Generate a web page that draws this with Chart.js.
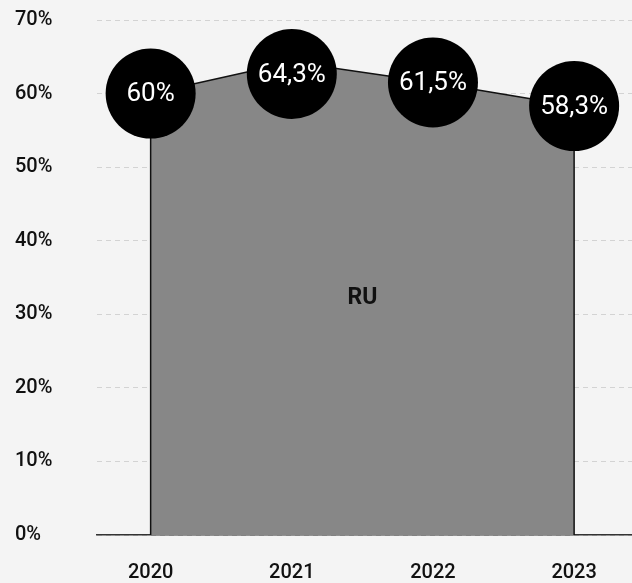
<!DOCTYPE html>
<html>
<head>
<meta charset="utf-8">
<script src="https://cdn.jsdelivr.net/npm/chart.js@4"></script>
<style>
	html, body { margin: 0; padding: 0; background: #f4f4f4; }
	#wrap { width: 632px; height: 583px; }
</style>
</head>
<body>
<div id="wrap"><canvas id="area-ru"></canvas></div>
<script>
// Chart data
const years = [2020, 2021, 2022, 2023];
const shareRu = [60, 64.3, 61.5, 58.3];
const yTicks = [0, 10, 20, 30, 40, 50, 60, 70];
const seriesName = "RU";

const fontFamily = "Roboto, 'Noto Sans', sans-serif";

function fmtPct(v) {
	return String(v).replace(".", ",") + "%";
}

/**
 * Draw the side edges of the area, the bubbles with values and the series name
 */
const bubbleLabels = {
	id: "bubbleLabels",
	afterDatasetsDraw(chart) {
		const ctx = chart.ctx;
		const meta = chart.getDatasetMeta(0);
		const yScale = chart.scales.y;
		const xScale = chart.scales.x;
		const base = yScale.getPixelForValue(0);
		const area = chart.chartArea;
		const r = 45;

		ctx.save();
		// vertical edges at first and last year
		ctx.strokeStyle = "#111";
		ctx.lineWidth = 1.5;
		[meta.data[0], meta.data[meta.data.length - 1]].forEach((pt) => {
			ctx.beginPath();
			ctx.moveTo(pt.x, pt.y);
			ctx.lineTo(pt.x, base);
			ctx.stroke();
		});

		// series name in the middle of the area
		const maxVal = Math.max(...shareRu);
		const midX = (xScale.getPixelForValue(years[0]) + xScale.getPixelForValue(years[years.length - 1])) / 2;
		ctx.fillStyle = "#111";
		ctx.font = "bold 23px " + fontFamily;
		ctx.textAlign = "center";
		ctx.textBaseline = "middle";
		ctx.fillText(seriesName, midX, yScale.getPixelForValue(maxVal / 2));

		// value bubbles, kept inside the chart area
		meta.data.forEach((pt, i) => {
			const cy = Math.max(pt.y, area.top + r + 9);
			ctx.beginPath();
			ctx.arc(pt.x, cy, r, 0, Math.PI * 2);
			ctx.fillStyle = "#000";
			ctx.fill();
			ctx.fillStyle = "#fff";
			ctx.font = "26px " + fontFamily;
			ctx.fillText(fmtPct(shareRu[i]), pt.x, cy + 1);
		});
		ctx.restore();
	},
};

const ctxEl = document.getElementById("area-ru");

new Chart(ctxEl, {
	type: "line",
	data: {
		datasets: [
			{
				label: seriesName,
				data: years.map((y, i) => ({ x: y, y: shareRu[i] })),
				borderColor: "#111",
				borderWidth: 1.5,
				backgroundColor: "#878787",
				fill: "origin",
				pointRadius: 0,
				tension: 0,
			},
		],
	},
	options: {
		responsive: true,
		maintainAspectRatio: false,
		animation: false,
		layout: {
			padding: { left: 15, top: 20, right: 0, bottom: 0 },
		},
		plugins: {
			legend: { display: false },
			tooltip: { enabled: false },
		},
		scales: {
			x: {
				type: "linear",
				min: 2019.62,
				max: 2023.41,
				afterBuildTicks: (scale) => {
					scale.ticks = years.map((v) => ({ value: v }));
				},
				afterFit: (scale) => {
					scale.height = 48;
				},
				grid: { display: false, drawTicks: false },
				border: { display: true, color: "#333", width: 1.5 },
				ticks: {
					padding: 26,
					color: "#111",
					font: { family: fontFamily, size: 20, weight: "500" },
					callback: (v) => String(v),
				},
			},
			y: {
				min: 0,
				max: 70,
				afterBuildTicks: (scale) => {
					scale.ticks = yTicks.map((v) => ({ value: v }));
				},
				afterFit: (scale) => {
					scale.width = 82;
				},
				grid: { color: "#d3d3d3", lineWidth: 1, drawTicks: false },
				border: { display: false, dash: [5, 4] },
				ticks: {
					crossAlign: "far",
					padding: 0,
					color: "#111",
					font: { family: fontFamily, size: 20, weight: "500" },
					callback: (v) => v + "%",
				},
			},
		},
	},
	plugins: [bubbleLabels],
});
</script>
</body>
</html>
